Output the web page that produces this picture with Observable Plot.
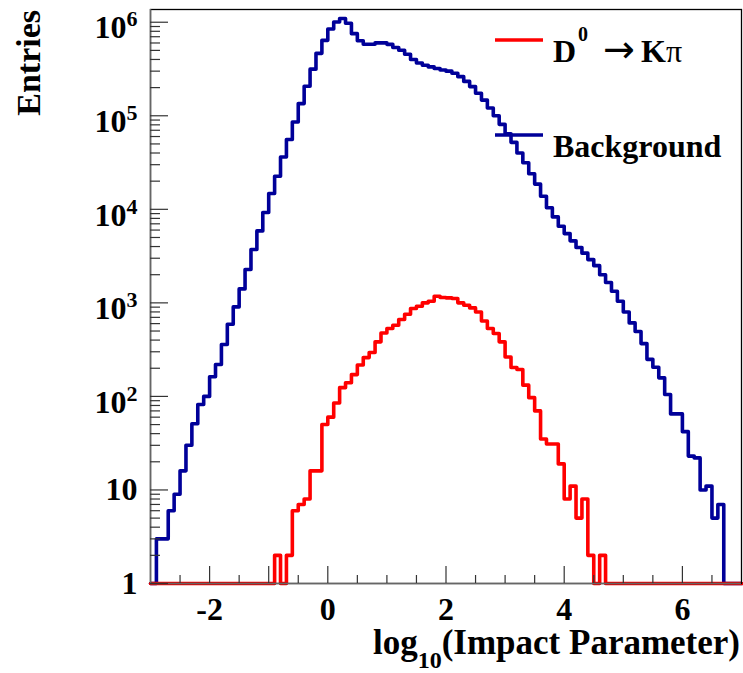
<!DOCTYPE html>
<html><head><meta charset="utf-8">
<script src="https://cdn.jsdelivr.net/npm/d3@7"></script>
<script src="https://cdn.jsdelivr.net/npm/@observablehq/plot@0.6"></script>
<style>html,body{margin:0;padding:0;background:#fff;}</style>
</head><body><div id="chart"></div>
<script>
// Histogram binning: 100 bins of 0.1 from -3 to 7
const binLow = -3;
const binHigh = 7;
const binWidth = 0.1;

// Background entries per bin (0 = empty bin)
const background = [
  0, 3, 3, 6, 9, 16, 30, 51, 82, 100,
  162, 219, 359, 591, 905, 1410, 2275, 3718, 5880, 9240,
  14750, 22600, 36300, 55700, 85900, 135000, 207000, 315000, 465000, 640000,
  845000, 1007000, 1095000, 975000, 755000, 635000, 582000, 582000, 601000, 601000,
  580000, 536000, 501000, 454000, 399000, 367000, 347000, 333000, 320000, 309000,
  300000, 285000, 262000, 233000, 205000, 174000, 147000, 121000, 100000, 81000,
  64000, 52000, 40000, 31500, 24000, 18600, 13800, 10400, 8300, 6600,
  5500, 4600, 3900, 3400, 2900, 2500, 2000, 1650, 1330, 1040,
  800, 611, 495, 367, 249, 205, 158, 105, 65, 65,
  42, 23, 22, 10, 11, 5, 7, 0, 0, 0
];

// D0 -> K pi signal entries per bin
const signal = [
  0, 0, 0, 0, 0, 0, 0, 0, 0, 0,
  0, 0, 0, 0, 0, 0, 0, 0, 0, 0,
  0, 2, 0, 2, 6, 7, 8, 16, 16, 50,
  60, 85, 124, 140, 171, 217, 260, 295, 383, 477,
  532, 577, 663, 757, 870, 921, 1000, 1040, 1178, 1141,
  1130, 1112, 1000, 944, 883, 800, 641, 532, 470, 383,
  264, 204, 194, 132, 97, 70, 35, 31, 31, 19,
  8, 11, 5, 8, 2, 0, 2, 0, 0, 0,
  0, 0, 0, 0, 0, 0, 0, 0, 0, 0,
  0, 0, 0, 0, 0, 0, 0, 0, 0, 0
];

const yLabelTicks = [1, 10, 100, 1e3, 1e4, 1e5, 1e6];
const xLabelTicks = [-2, 0, 2, 4, 6];
const xMajorTicks = [-2, -1, 0, 2, 4, 6];
const xMinorTicks = [-2.5, -1.5, -0.5, 0.5, 1, 1.5, 2.5, 3, 3.5, 4.5, 5, 5.5, 6.5];
const yMax = 1.368e6;

const blueColor = "#000099";
const redColor = "#ff0000";
const fontFam = "'Liberation Serif', 'Times New Roman', serif";

// minor y ticks: 2..9 in each decade
const yMinorTicks = [];
for (const d of [1, 10, 100, 1e3, 1e4, 1e5]) for (let m = 2; m <= 9; m++) yMinorTicks.push(d * m);

function steps(values) {
  const pts = values.map((v, i) => ({x: +(binLow + i * binWidth).toFixed(2), y: Math.max(v, 1)}));
  pts.push({x: binHigh, y: Math.max(values[values.length - 1], 1)});
  return pts;
}

const W = 743, H = 673;
const mL = 150, mR = 2, mT = 9, mB = 90;
const frameW = W - mL - mR, frameH = H - mT - mB;

const svg = Plot.plot({
  width: W, height: H,
  marginLeft: mL, marginRight: mR, marginTop: mT, marginBottom: mB,
  style: {fontFamily: fontFam, fontSize: "32px", fontWeight: "bold", background: "#fff", color: "#000"},
  x: {domain: [binLow, binHigh]},
  y: {type: "log", domain: [1, yMax]},
  marks: [
    Plot.line(steps(background), {x: "x", y: "y", curve: "step-after", stroke: blueColor, strokeWidth: 3.6}),
    Plot.line(steps(signal), {x: "x", y: "y", curve: "step-after", stroke: redColor, strokeWidth: 3.6}),
    Plot.frame({stroke: "#000", strokeWidth: 1.3}),
    Plot.ruleX([binLow], {stroke: "#666", strokeWidth: 1.5}),
    Plot.ruleY([1], {stroke: "#666", strokeWidth: 1.5}),
    Plot.tickY(yLabelTicks, {y: d => d, insetRight: frameW - 18, stroke: "#333", strokeWidth: 1.2}),
    Plot.tickY(yMinorTicks, {y: d => d, insetRight: frameW - 10, stroke: "#333", strokeWidth: 1.2}),
    Plot.tickX(xMajorTicks, {x: d => d, insetTop: frameH - 17, stroke: "#333", strokeWidth: 1.2}),
    Plot.tickX(xMinorTicks, {x: d => d, insetTop: frameH - 8, stroke: "#333", strokeWidth: 1.2}),
    Plot.axisY({ticks: yLabelTicks, tickSize: 0, tickPadding: 13, label: null,
      tickFormat: d => d <= 10 ? String(d) : "10^" + Math.round(Math.log10(d))}),
    Plot.axisX({ticks: xLabelTicks, tickSize: 0, tickPadding: 14, label: null, tickFormat: d => String(d)})
  ]
});

document.getElementById("chart").appendChild(svg);
const s = d3.select(svg);

// superscripts on y tick labels
s.selectAll("g[aria-label='y-axis tick label'] text").each(function () {
  const t = this.textContent;
  if (t.includes("^")) {
    const [base, exp] = t.split("^");
    this.textContent = "";
    const el = d3.select(this);
    el.append("tspan").attr("dy", 6).text(base);
    el.append("tspan").attr("dy", -12).attr("font-size", 22).text(exp);
  }
});

// y title
s.append("text")
  .attr("transform", "translate(40,10) rotate(-90)")
  .attr("text-anchor", "end")
  .attr("font-family", fontFam).attr("font-weight", "bold").attr("font-size", 34)
  .text("Entries");

// x title
const xt = s.append("text")
  .attr("x", 740).attr("y", 654)
  .attr("text-anchor", "end")
  .attr("font-family", fontFam).attr("font-weight", "bold").attr("font-size", 35);
xt.append("tspan").text("log");
xt.append("tspan").attr("dy", 14).attr("font-size", 24).text("10");
xt.append("tspan").attr("dy", -14).text("(Impact Parameter)");

// legend
s.append("line").attr("x1", 495).attr("x2", 543).attr("y1", 40).attr("y2", 40)
  .attr("stroke", redColor).attr("stroke-width", 3.5);
s.append("line").attr("x1", 495).attr("x2", 543).attr("y1", 135).attr("y2", 135)
  .attr("stroke", blueColor).attr("stroke-width", 3.5);
const l1 = s.append("text").attr("x", 553).attr("y", 62).attr("text-anchor", "start")
  .attr("font-family", fontFam).attr("font-weight", "bold").attr("font-size", 32);
l1.append("tspan").text("D");
l1.append("tspan").attr("x", 578).attr("dy", -21).attr("font-size", 20).text("0");
l1.append("tspan").attr("x", 603).attr("dy", 21).attr("font-weight", "normal")
  .attr("font-family", "'DejaVu Sans', sans-serif").attr("font-size", 38).text("\u2192");
l1.append("tspan").attr("x", 641).text("K");
l1.append("tspan").attr("font-weight", "normal").text("\u03C0");
s.append("text").attr("x", 553).attr("y", 157).attr("text-anchor", "start")
  .attr("font-family", fontFam).attr("font-weight", "bold").attr("font-size", 32)
  .text("Background");
</script>
</body></html>
